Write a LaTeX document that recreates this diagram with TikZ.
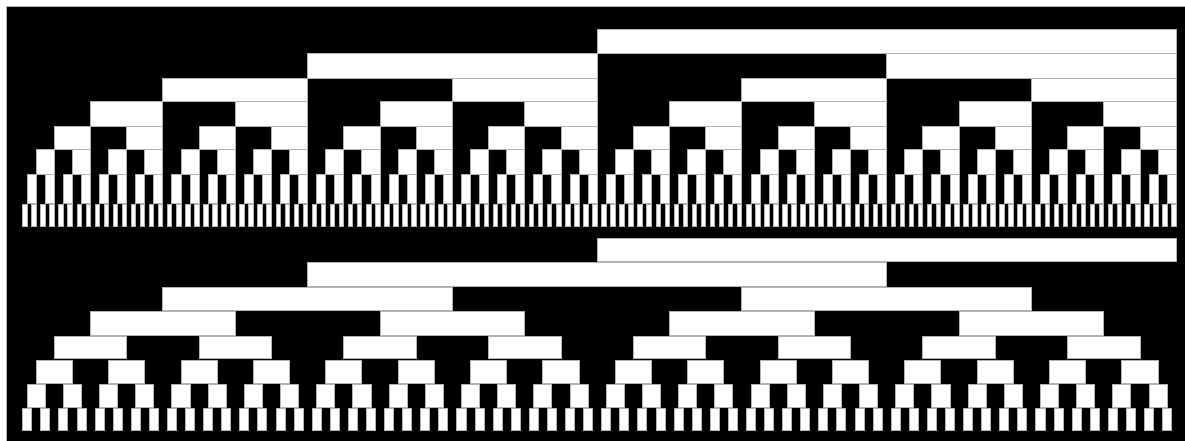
\documentclass[tikz,border=0pt]{standalone}
\usepackage{tikz}

\begin{document}
\begin{tikzpicture}[x=1pt,y=-1pt,bitbar/.style={fill=white,draw=gray!60,line width=0.6pt}]
  \useasboundingbox (0,0) rectangle (1185,441);
  \fill[white] (0,0) rectangle (1185,441);
  \filldraw[fill=black,draw=gray!60,line width=0.8pt] (6,6) rectangle (1187,443);
  \def\w{4.5234}
  \foreach \k/\ya/\yb in {7/29/53,6/53/78,5/78/101,4/101/126,3/126/149,2/149/174,1/174/203,0/204/226}{
    \pgfmathtruncatemacro\len{2^\k}
    \pgfmathtruncatemacro\nrun{128/\len-1}
    \foreach \m in {0,...,\nrun}
      \draw[bitbar] ({18+\w*\len*(2*\m+1)},\ya) rectangle ({18+\w*\len*(2*\m+2)},\yb);
  }
  \foreach \k/\ya/\yb in {7/238/261,6/262/286,5/287/310,4/311/335,3/336/358,2/360/383,1/384/407,0/408/430}{
    \pgfmathtruncatemacro\len{2^\k}
    \pgfmathtruncatemacro\nrun{max(64/\len-1,0)}
    \foreach \m in {0,...,\nrun}{
      \pgfmathsetmacro\xa{\len*(1+4*\m)}
      \pgfmathsetmacro\xb{min(\xa+2*\len,256)}
      \draw[bitbar] ({18+\w*\xa},\ya) rectangle ({18+\w*\xb},\yb);
    }
  }
\end{tikzpicture}
\end{document}
